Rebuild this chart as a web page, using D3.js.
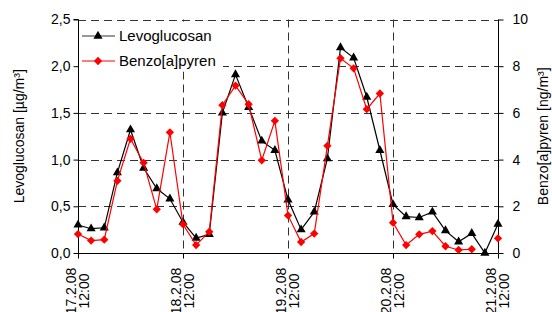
<!DOCTYPE html>
<html>
<head>
<meta charset="utf-8">
<script src="https://cdn.jsdelivr.net/npm/d3@7"></script>
<style>
  html, body { margin: 0; padding: 0; background: #fff; }
  svg { display: block; font-family: "Liberation Sans", Arial, sans-serif; }
</style>
</head>
<body>
<svg id="chart" width="552" height="312"></svg>
<script>
// ---- data ----
const times = [
  "2008-02-17 12:00","2008-02-17 15:00","2008-02-17 18:00","2008-02-17 21:00",
  "2008-02-18 00:00","2008-02-18 03:00","2008-02-18 06:00","2008-02-18 09:00",
  "2008-02-18 12:00","2008-02-18 15:00","2008-02-18 18:00","2008-02-18 21:00",
  "2008-02-19 00:00","2008-02-19 03:00","2008-02-19 06:00","2008-02-19 09:00",
  "2008-02-19 12:00","2008-02-19 15:00","2008-02-19 18:00","2008-02-19 21:00",
  "2008-02-20 00:00","2008-02-20 03:00","2008-02-20 06:00","2008-02-20 09:00",
  "2008-02-20 12:00","2008-02-20 15:00","2008-02-20 18:00","2008-02-20 21:00",
  "2008-02-21 00:00","2008-02-21 03:00","2008-02-21 06:00","2008-02-21 09:00",
  "2008-02-21 12:00"
];
const levoglucosan = [
  0.30, 0.26, 0.27, 0.86, 1.32, 0.91, 0.69, 0.58,
  0.33, 0.16, 0.20, 1.50, 1.91, 1.56, 1.20, 1.10,
  0.57, 0.25, 0.44, 1.01, 2.20, 2.09, 1.67, 1.10,
  0.52, 0.39, 0.38, 0.44, 0.24, 0.12, 0.21, 0.00,
  0.31
];
const benzoapyren = [
  0.81, 0.53, 0.57, 3.09, 4.89, 3.86, 1.87, 5.17,
  1.23, 0.34, 0.91, 6.33, 7.17, 6.37, 3.97, 5.66,
  1.61, 0.47, 0.83, 4.59, 8.34, 7.91, 6.16, 6.83,
  1.30, 0.34, 0.80, 0.94, 0.29, 0.13, 0.16, null,
  0.63
];
const xTickTimes = ["2008-02-17 12:00","2008-02-18 12:00","2008-02-19 12:00","2008-02-20 12:00","2008-02-21 12:00"];
const xTickDates = ["17.2.08","18.2.08","19.2.08","20.2.08","21.2.08"];
const xTickHours = ["12:00","12:00","12:00","12:00","12:00"];
const leftTicks = [0, 0.5, 1.0, 1.5, 2.0, 2.5];
const rightTicks = [0, 2, 4, 6, 8, 10];
const seriesNames = ["Levoglucosan", "Benzo[a]pyren"];
const leftTitle = "Levoglucosan [µg/m³]";
const rightTitle = "Benzo[a]pyren [ng/m³]";

// ---- layout ----
const parse = d3.timeParse("%Y-%m-%d %H:%M");
const svg = d3.select("#chart");
const L = 78, R = 498, T = 19.5, B = 253;

const x = d3.scaleTime()
  .domain([parse(xTickTimes[0]), parse(xTickTimes[xTickTimes.length - 1])])
  .range([L, R]);
const yL = d3.scaleLinear().domain([0, 2.5]).range([B, T]);
const yR = d3.scaleLinear().domain([0, 10]).range([B, T]);

const locale = d3.formatLocale({decimal: ",", thousands: ".", grouping: [3], currency: ["", "€"]});
const fmt1 = locale.format(".1f");

// grid lines
const grid = svg.append("g").attr("stroke", "#333").attr("stroke-width", 1).attr("stroke-dasharray", "8,5");
grid.selectAll("line.h").data(leftTicks.filter(d => d > 0)).join("line")
  .attr("x1", L).attr("x2", R)
  .attr("y1", d => Math.round(yL(d)) + 0.5).attr("y2", d => Math.round(yL(d)) + 0.5);
grid.selectAll("line.v").data(xTickTimes.slice(1, -1)).join("line")
  .attr("x1", d => Math.round(x(parse(d))) + 0.5).attr("x2", d => Math.round(x(parse(d))) + 0.5)
  .attr("y1", T).attr("y2", B);

// legend background (covers grid)
svg.append("rect").attr("x", L + 1).attr("y", T + 2).attr("width", 144).attr("height", 50).attr("fill", "#fff");

// axes
const axL = svg.append("g").attr("transform", `translate(${L + 0.5},0)`)
  .call(d3.axisLeft(yL).tickValues(leftTicks).tickSize(5).tickPadding(3).tickFormat(fmt1));
const axR = svg.append("g").attr("transform", `translate(${R + 0.5},0)`)
  .call(d3.axisRight(yR).tickValues(rightTicks).tickSize(5).tickPadding(9).tickFormat(d3.format("d")));
const axB = svg.append("g").attr("transform", `translate(0,${B + 0.5})`)
  .call(d3.axisBottom(x).tickValues(xTickTimes.map(parse)).tickSize(5).tickFormat(""));
[axL, axR, axB].forEach(a => {
  a.select(".domain").attr("stroke", "#000").attr("stroke-width", 1);
  a.selectAll(".tick line").attr("stroke", "#000");
  a.selectAll("text").attr("font-size", 14).attr("fill", "#000")
    .attr("font-family", "'Liberation Sans', Arial, sans-serif");
});
axL.select(".domain").attr("d", `M-5,${T}H0V${B}`);
axR.select(".domain").attr("d", `M0,${T}V${B}`);
axB.select(".domain").attr("d", `M${L},0H${R}`);

// x tick labels (two rotated lines)
const xl = svg.append("g").attr("font-size", 14).attr("fill", "#000");
xTickTimes.forEach((t, i) => {
  const px = x(parse(t));
  xl.append("text").attr("transform", `translate(${px - 2},291) rotate(-90)`)
    .attr("text-anchor", "middle").text(xTickDates[i]);
  xl.append("text").attr("transform", `translate(${px + 11},291) rotate(-90)`)
    .attr("text-anchor", "middle").text(xTickHours[i]);
});

// axis titles
svg.append("text").attr("transform", `translate(24,${(T + B) / 2}) rotate(-90)`)
  .attr("text-anchor", "middle").attr("font-size", 14).text(leftTitle);
svg.append("text").attr("transform", `translate(548,${(T + B) / 2}) rotate(-90)`)
  .attr("text-anchor", "middle").attr("font-size", 14).text(rightTitle);

// series
const levData = times.map((t, i) => ({t: parse(t), v: levoglucosan[i]}));
const bapData = times.map((t, i) => ({t: parse(t), v: benzoapyren[i]}));

const lineL = d3.line().defined(d => d.v != null).x(d => x(d.t)).y(d => yL(d.v));
const lineR = d3.line().defined(d => d.v != null).x(d => x(d.t)).y(d => yR(d.v));

svg.append("path").datum(levData).attr("d", lineL).attr("fill", "none").attr("stroke", "#000").attr("stroke-width", 1.2);
const tri = d3.symbol().type(d3.symbolTriangle).size(36);
svg.append("g").selectAll("path").data(levData.filter(d => d.v != null)).join("path")
  .attr("d", tri).attr("transform", d => `translate(${x(d.t)},${yL(d.v)})`).attr("fill", "#000");

svg.append("path").datum(bapData).attr("d", lineR).attr("fill", "none").attr("stroke", "#ff0000").attr("stroke-width", 1.2);
const dia = d3.symbol().type(d3.symbolDiamond2).size(44);
svg.append("g").selectAll("path").data(bapData.filter(d => d.v != null)).join("path")
  .attr("d", dia).attr("transform", d => `translate(${x(d.t)},${yR(d.v)})`).attr("fill", "#ff0000");

// legend
const lg = svg.append("g");
const legY = [36, 61];
const legColor = ["#000", "#ff0000"];
seriesNames.forEach((name, i) => {
  lg.append("line").attr("x1", 82).attr("x2", 115).attr("y1", legY[i]).attr("y2", legY[i])
    .attr("stroke", i === 0 ? "#333" : legColor[i]).attr("stroke-width", 1.2);
  lg.append("path").attr("d", i === 0 ? tri() : dia()).attr("transform", `translate(98,${legY[i]})`).attr("fill", legColor[i]);
  lg.append("text").attr("x", 119).attr("y", legY[i] + 5).attr("font-size", 15).text(name);
});
</script>
</body>
</html>
